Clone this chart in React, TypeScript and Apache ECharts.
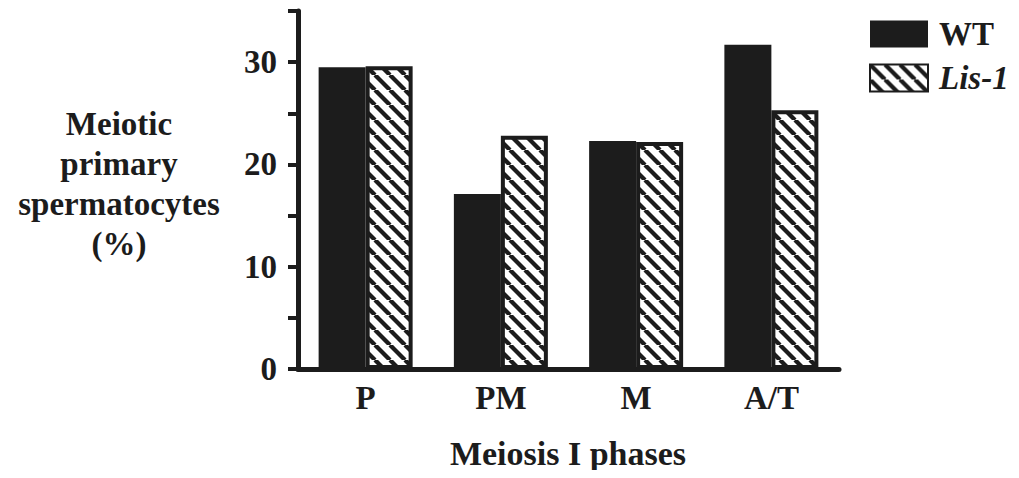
import React, { useEffect, useRef } from "react";
import * as echarts from "echarts";

const categories = ["P", "PM", "M", "A/T"];
const wtValues = [29.5, 17.1, 22.3, 31.7];
const lisValues = [29.6, 22.8, 22.2, 25.3];
const seriesNames = ["WT", "Lis-1"];
const yTicks = [0, 10, 20, 30];
const yNameLines = ["Meiotic", "primary", "spermatocytes", "(%)"];
const xName = "Meiosis I phases";

const INK = "#1c1c1c";
const FONT = "'Liberation Serif', 'Times New Roman', serif";

function makeHatch(): HTMLCanvasElement {
  const s = 15;
  const c = document.createElement("canvas");
  c.width = s;
  c.height = s;
  const ctx = c.getContext("2d")!;
  ctx.fillStyle = "#ffffff";
  ctx.fillRect(0, 0, s, s);
  ctx.strokeStyle = INK;
  ctx.lineWidth = 4.3;
  for (let k = -1; k <= 1; k++) {
    ctx.beginPath();
    ctx.moveTo(k * s, 0);
    ctx.lineTo(k * s + s, s);
    ctx.stroke();
  }
  return c;
}

export default function App() {
  const ref = useRef<HTMLDivElement>(null);
  useEffect(() => {
    if (!ref.current) return;
    const chart = echarts.init(ref.current, null, { renderer: "svg" });
    const hatch = makeHatch();
    chart.setOption({
      animation: false,
      backgroundColor: "#ffffff",
      grid: { left: 298, right: 180, top: 11, bottom: 109, containLabel: false },
      legend: {
        orient: "vertical",
        left: 864,
        top: 12,
        icon: "rect",
        itemWidth: 58,
        itemHeight: 27,
        itemGap: 10,
        data: seriesNames,
        formatter: (name: string) => (name === "Lis-1" ? "{i|Lis-1}" : "{b|" + name + "}"),
        textStyle: {
          fontFamily: FONT,
          fontSize: 33,
          fontWeight: "bold",
          color: INK,
          lineHeight: 34,
          padding: [0, 0, 0, 6],
          rich: {
            b: { fontFamily: FONT, fontSize: 33, fontWeight: "bold", color: INK, lineHeight: 34 },
            i: { fontFamily: FONT, fontSize: 33, fontWeight: "bold", fontStyle: "italic", color: INK, lineHeight: 34 },
          },
        },
      },
      xAxis: {
        type: "category",
        data: categories,
        axisLine: { show: true, lineStyle: { color: INK, width: 5 } },
        axisTick: { show: false },
        axisLabel: {
          margin: 12,
          fontFamily: FONT,
          fontSize: 33,
          fontWeight: "bold",
          color: INK,
        },
      },
      yAxis: {
        type: "value",
        min: 0,
        max: 35,
        interval: 5,
        splitLine: { show: false },
        axisLine: { show: true, lineStyle: { color: INK, width: 5 } },
        axisTick: { show: true, length: 10, lineStyle: { color: INK, width: 4 } },
        axisLabel: {
          margin: 21,
          fontFamily: FONT,
          fontSize: 33,
          fontWeight: "bold",
          color: INK,
          formatter: (v: number) => (yTicks.indexOf(v) >= 0 ? String(v) : ""),
        },
      },
      graphic: [
        {
          type: "text",
          x: 119,
          y: 184,
          style: {
            text: yNameLines.join("\n"),
            fontFamily: FONT,
            fontSize: 33,
            fontWeight: "bold",
            fill: INK,
            lineHeight: 40,
            align: "center",
            verticalAlign: "middle",
          },
        },
        {
          type: "text",
          x: 568,
          y: 453,
          style: {
            text: xName,
            fontFamily: FONT,
            fontSize: 34,
            fontWeight: "bold",
            fill: INK,
            align: "center",
            verticalAlign: "middle",
          },
        },
      ],
      series: [
        {
          name: seriesNames[0],
          type: "bar",
          data: wtValues,
          barWidth: 47,
          barGap: "0%",
          itemStyle: { color: INK },
        },
        {
          name: seriesNames[1],
          type: "bar",
          data: lisValues,
          barWidth: 47,
          barGap: "0%",
          itemStyle: {
            color: { image: hatch, repeat: "repeat" },
            borderColor: INK,
            borderWidth: 4,
          },
        },
      ],
    });
    return () => chart.dispose();
  }, []);
  return <div ref={ref} style={{ width: 1019, height: 478, margin: -8 }} />;
}
